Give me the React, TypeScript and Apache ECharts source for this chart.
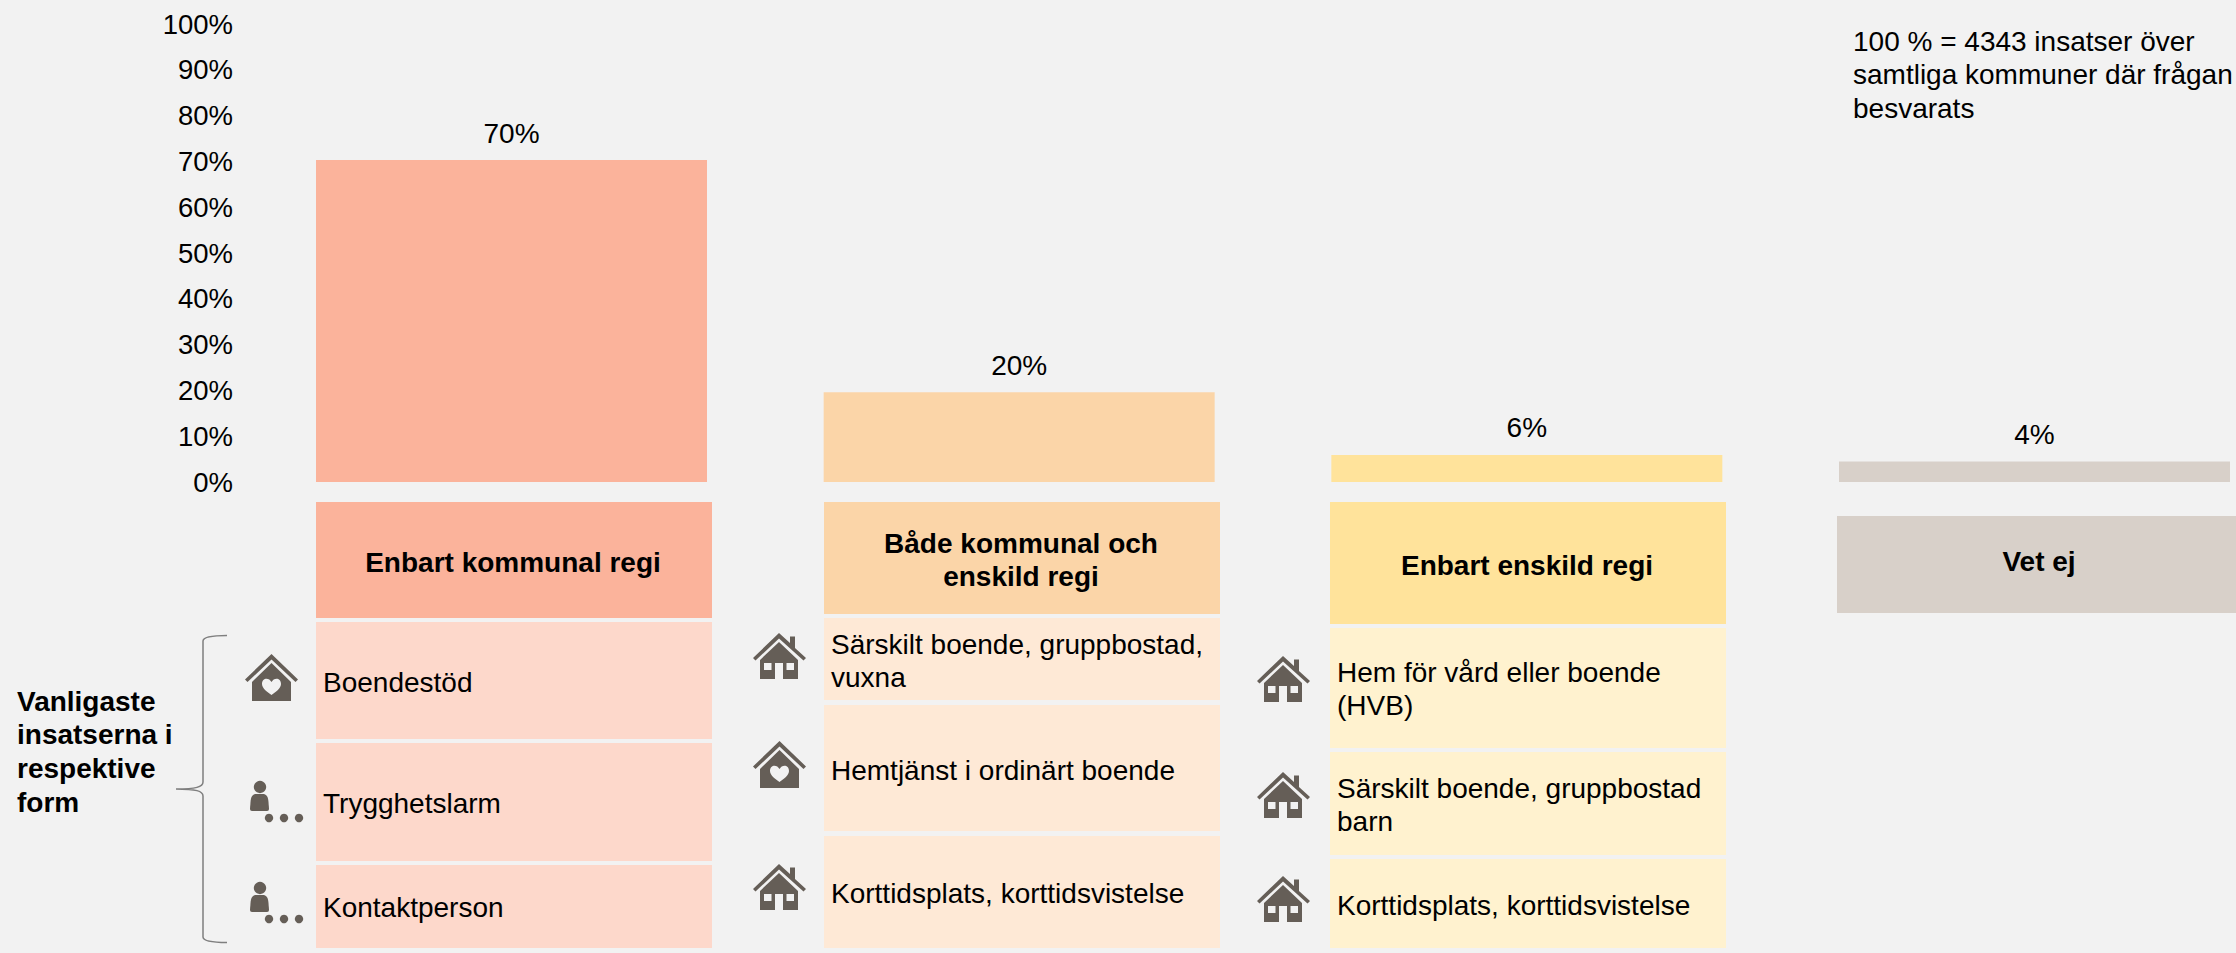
import React, { useEffect, useRef } from "react";
import * as echarts from "echarts";

// ---- data ----
const categories = ["Enbart kommunal regi", "Både kommunal och\nenskild regi", "Enbart enskild regi", "Vet ej"];
const shareValues = [70.3, 19.6, 5.9, 4.45];
const tickStep = 10;
const maxTick = 100;
const note = "100 % = 4343 insatser över\nsamtliga kommuner där frågan\nbesvarats";
const sideLabel = ["Vanligaste", "insatserna i", "respektive", "form"];
const col1Rows = ["Boendestöd", "Trygghetslarm", "Kontaktperson"];
const col2Rows = ["Särskilt boende, gruppbostad,\nvuxna", "Hemtjänst i ordinärt boende", "Korttidsplats, korttidsvistelse"];
const col3Rows = ["Hem för vård eller boende\n(HVB)", "Särskilt boende, gruppbostad\nbarn", "Korttidsplats, korttidsvistelse"];

// ---- styling ----
const FONT = "'Liberation Sans', Arial, sans-serif";
const BG = "#F2F2F2";
const ICON = "#655E57";
const barColors = ["#FBB39B", "#FBD5A8", "#FFE39B", "#D8D0C9"];
const rowColors = ["#FDD8CB", "#FEE9D6", "#FFF2CF"];

const HOUSE =
  "M26,0 L37,10 L37,3.5 L42,3.5 L42,15 L53,25 L50.5,27.5 L26,5.5 L2.5,27.5 L0,25 Z " +
  "M26,9 L45,27 L45,46 L30,46 L30,30 L22,30 L22,46 L7,46 L7,27 Z " +
  "M11,30 L11,37 L18.5,37 L18.5,30 Z M33.5,30 L33.5,37 L41,37 L41,30 Z";
const HEART_HOUSE =
  "M26.5,0 L53,25.5 L50.5,28 L26.5,5.5 L2.5,28 L0,25.5 Z " +
  "M26.5,9 L46,28 L46,47 L7,47 L7,28 Z " +
  "M26.5,28 C24,23 17,23.5 17,30 C17,34 22,38 26.5,41 C31,38 36,34 36,30 C36,23.5 29,23 26.5,28 Z";
const PERSON =
  "M5,0 L14,0 C17,1 18,3 18.5,8 L19,15 Q19,17 17,17 L2,17 Q0,17 0,15 L0.5,8 C1,3 2,1 5,0 Z";
const BRACE =
  "M25,0.5 C14,0.5 1,1 1,6 L1,147 C1,152 -6,154 -26,154 C-6,154 1,156 1,161 L1,302 C1,307 14,307.5 25,307.5";

echarts.graphic.registerShape("house", echarts.graphic.extendPath(HOUSE, {}));
echarts.graphic.registerShape("heartHouse", echarts.graphic.extendPath(HEART_HOUSE, {}));
echarts.graphic.registerShape("person", echarts.graphic.extendPath(PERSON, {}));
echarts.graphic.registerShape("brace", echarts.graphic.extendPath(BRACE, {}));

const rect = (x0: number, y0: number, x1: number, y1: number, fill: string) => ({
  type: "rect",
  shape: { x: x0, y: y0, width: x1 - x0, height: y1 - y0 },
  style: { fill },
  silent: true,
});

const label = (text: string, x: number, y: number, opts: any = {}) => ({
  type: "text",
  x,
  y,
  silent: true,
  style: {
    text,
    fontFamily: FONT,
    fontSize: 28,
    lineHeight: 33,
    fill: "#000000",
    align: "left",
    verticalAlign: "middle",
    ...opts,
  },
});

const bold = { fontWeight: "bold", align: "center" };

const icon = (type: string, x: number, y: number) => ({
  type,
  x,
  y,
  silent: true,
  style: { fill: ICON },
});

const personIcon = (x: number, y: number) => [
  { type: "circle", shape: { cx: x + 10, cy: y, r: 6.2 }, style: { fill: ICON }, silent: true },
  icon("person", x, y + 7),
  { type: "circle", shape: { cx: x + 19, cy: y + 31, r: 4.2 }, style: { fill: ICON }, silent: true },
  { type: "circle", shape: { cx: x + 34, cy: y + 31, r: 4.2 }, style: { fill: ICON }, silent: true },
  { type: "circle", shape: { cx: x + 49, cy: y + 31, r: 4.2 }, style: { fill: ICON }, silent: true },
];

function buildGraphics() {
  return [
    // column 1
    rect(316, 502, 712, 618, barColors[0]),
    rect(316, 622, 712, 739, rowColors[0]),
    rect(316, 743, 712, 861, rowColors[0]),
    rect(316, 865, 712, 948, rowColors[0]),
    label(categories[0], 513, 562, bold),
    label(col1Rows[0], 323, 682),
    label(col1Rows[1], 323, 803),
    label(col1Rows[2], 323, 907),
    // column 2
    rect(824, 502, 1220, 614, barColors[1]),
    rect(824, 618, 1220, 700, rowColors[1]),
    rect(824, 705, 1220, 831, rowColors[1]),
    rect(824, 836, 1220, 948, rowColors[1]),
    label(categories[1], 1021, 559.5, bold),
    label(col2Rows[0], 831, 660.5),
    label(col2Rows[1], 831, 770),
    label(col2Rows[2], 831, 893),
    // column 3
    rect(1330, 502, 1726, 624, barColors[2]),
    rect(1330, 628, 1726, 748, rowColors[2]),
    rect(1330, 752, 1726, 855, rowColors[2]),
    rect(1330, 859, 1726, 948, rowColors[2]),
    label(categories[2], 1527, 565, bold),
    label(col3Rows[0], 1337, 689),
    label(col3Rows[1], 1337, 805),
    label(col3Rows[2], 1337, 905),
    // column 4
    rect(1837, 516, 2236, 613, barColors[3]),
    label(categories[3], 2039, 561, bold),
    // note
    label(note, 1853, 74.5, { lineHeight: 33.5 }),
    // side label
    ...sideLabel.map((t, i) => label(t, 17, 701 + i * 33.7, { fontWeight: "bold" })),
    // brace
    {
      type: "brace",
      x: 202,
      y: 635,
      silent: true,
      style: { fill: "none", stroke: "#7F7F7F", lineWidth: 1.5 },
    },
    // icons
    icon("heartHouse", 245, 654),
    ...personIcon(250, 787),
    ...personIcon(250, 888),
    icon("house", 753, 633),
    icon("heartHouse", 753, 741),
    icon("house", 753, 864),
    icon("house", 1257, 656),
    icon("house", 1257, 772),
    icon("house", 1257, 876),
  ];
}

export default function App() {
  const ref = useRef<HTMLDivElement>(null);

  useEffect(() => {
    document.body.style.margin = "0";
    document.body.style.overflow = "hidden";
    const chart = echarts.init(ref.current!, null, { renderer: "svg" });
    chart.setOption({
      animation: false,
      backgroundColor: BG,
      grid: { left: 511.5, top: 24, width: 1523, height: 458, containLabel: false },
      xAxis: {
        type: "category",
        boundaryGap: false,
        data: categories,
        axisLine: { show: false },
        axisTick: { show: false },
        axisLabel: { show: false },
      },
      yAxis: {
        type: "value",
        min: 0,
        max: maxTick,
        interval: tickStep,
        axisLine: { show: false },
        axisTick: { show: false },
        splitLine: { show: false },
        axisLabel: {
          formatter: "{value}%",
          margin: 278.5,
          fontFamily: FONT,
          fontSize: 27.5,
          color: "#000000",
        },
      },
      series: [
        {
          type: "bar",
          barWidth: 391,
          clip: false,
          data: shareValues.map((value, i) => ({ value, itemStyle: { color: barColors[i] } })),
          label: {
            show: true,
            position: "top",
            distance: 13,
            fontFamily: FONT,
            fontSize: 28,
            color: "#000000",
            formatter: (p: any) => `${Math.round(p.value)}%`,
          },
        },
      ],
      graphic: { elements: buildGraphics() },
    });
    return () => chart.dispose();
  }, []);

  return <div ref={ref} style={{ width: 2236, height: 953 }} />;
}
